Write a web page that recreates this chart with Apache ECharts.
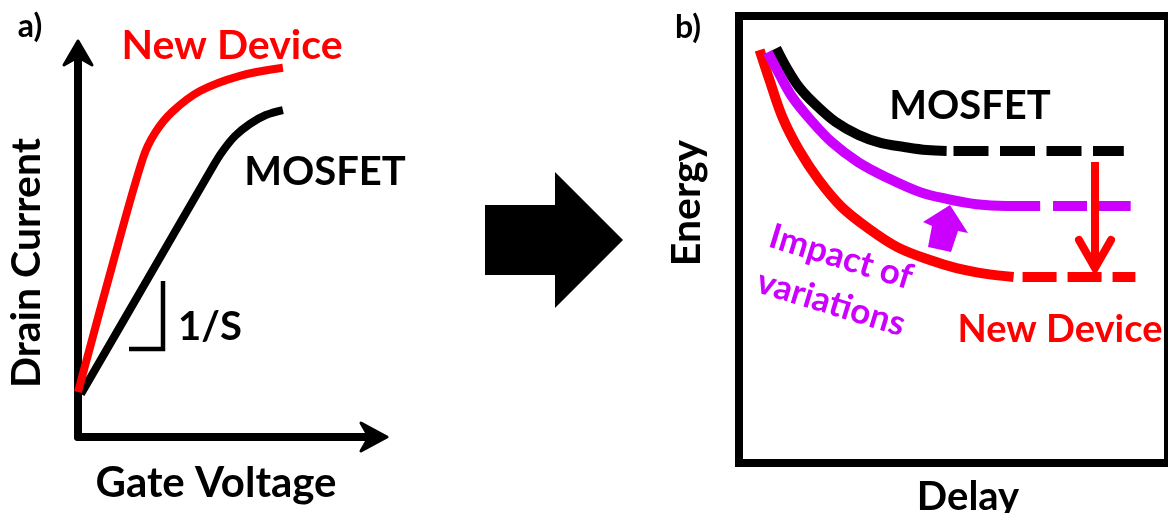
<!DOCTYPE html>
<html>
<head>
<meta charset="utf-8">
<script src="https://cdn.jsdelivr.net/npm/echarts@6/dist/echarts.min.js"></script>
<style>
html,body{margin:0;padding:0;background:#ffffff;}
#main{width:1168px;height:513px;}
</style>
</head>
<body>
<div id="main"></div>
<script>
// ---- Panel a: drain current vs gate voltage (arbitrary units 0-10) ----
const gateVoltageNew  = [0.00, 1.19, 2.21, 2.62, 3.20, 4.15, 5.51, 6.97];
const drainCurrentNew = [1.18, 4.57, 7.32, 7.98, 8.53, 9.08, 9.48, 9.69];
const gateVoltageMos  = [0.10, 2.35, 4.56, 4.90, 5.34, 5.85, 6.39, 6.97];
const drainCurrentMos = [1.13, 4.12, 7.06, 7.48, 7.90, 8.22, 8.45, 8.58];

// ---- Panel b: energy vs delay (arbitrary units 0-10) ----
const delayMos     = [0.87, 1.10, 1.40, 1.79, 2.25, 2.78, 3.30, 3.85, 4.38, 4.84];
const energyMos    = [9.28, 8.86, 8.41, 8.01, 7.63, 7.34, 7.16, 7.07, 7.00, 6.98];
const delayMosExt  = [5.00, 8.97];
const energyMosExt = [6.98, 6.98];

const delayVar     = [0.67, 0.94, 1.24, 1.63, 2.16, 2.78, 3.46, 4.22, 4.84, 5.53, 6.22, 7.02];
const energyVar    = [9.19, 8.70, 8.19, 7.72, 7.18, 6.73, 6.38, 6.06, 5.91, 5.79, 5.75, 5.75];
const delayVarExt  = [7.32, 9.13];
const energyVarExt = [5.75, 5.75];

const delayNew     = [0.48, 0.71, 1.01, 1.40, 1.86, 2.39, 3.00, 3.69, 4.45, 5.07, 5.76, 6.40];
const energyNew    = [9.24, 8.57, 7.74, 7.00, 6.33, 5.73, 5.26, 4.83, 4.54, 4.36, 4.23, 4.16];
const delayNewExt  = [6.61, 9.24];
const energyNewExt = [4.16, 4.16];

// ---- Text labels ----
const panelLabels = ['a)', 'b)'];
const axisTitles = ['Gate Voltage', 'Drain Current', 'Delay', 'Energy'];
const deviceNames = ['New Device', 'MOSFET'];
const slopeLabel = '1/S';
const variationLabel = ['Impact of', 'variations'];

const RED = '#ff0000', PURPLE = '#cc00ff', BLACK = '#000000';
const FONT = 'Lato';

function pairs(xs, ys) { return xs.map((x, i) => [x, ys[i]]); }

function lineSeries(xi, yi, xs, ys, color, width, dash) {
  return {
    type: 'line', xAxisIndex: xi, yAxisIndex: yi,
    data: pairs(xs, ys), symbol: 'none', smooth: dash ? false : 0.35,
    silent: true,
    lineStyle: { color: color, width: width, type: dash || 'solid', cap: 'butt' }
  };
}

function label(text, x, y, size, color, rot) {
  return {
    type: 'text', x: x, y: y, rotation: rot || 0, z: 20,
    style: { text: text, fill: color, fontFamily: FONT, fontWeight: 'bold', fontSize: size,
             align: 'center', verticalAlign: 'middle' }
  };
}

const hidden = { type: 'value', min: 0, max: 10, show: false };
const shownAxis = {
  type: 'value', min: 0, max: 10,
  axisLine: { show: true, onZero: false, lineStyle: { color: BLACK, width: 8, cap: 'round' } },
  axisTick: { show: false }, axisLabel: { show: false }, splitLine: { show: false }
};

const chart = echarts.init(document.getElementById('main'), null, { renderer: 'canvas' });
const rot = -17 * Math.PI / 180;
chart.setOption({
  animation: false,
  backgroundColor: '#ffffff',
  grid: [
    { left: 78, top: 56, width: 294, height: 381 },
    { left: 739, top: 16, right: -7, bottom: 50, show: true, borderColor: BLACK, borderWidth: 8, backgroundColor: 'transparent' }
  ],
  xAxis: [
    Object.assign({ gridIndex: 0 }, shownAxis),
    Object.assign({ gridIndex: 1 }, hidden)
  ],
  yAxis: [
    Object.assign({ gridIndex: 0 }, shownAxis),
    Object.assign({ gridIndex: 1 }, hidden)
  ],
  series: [
    lineSeries(0, 0, gateVoltageMos, drainCurrentMos, BLACK, 8),
    lineSeries(0, 0, gateVoltageNew, drainCurrentNew, RED, 8),
    lineSeries(1, 1, delayNew, energyNew, RED, 10),
    lineSeries(1, 1, delayNewExt, energyNewExt, RED, 10, [34, 11]),
    lineSeries(1, 1, delayMos, energyMos, BLACK, 10),
    lineSeries(1, 1, delayMosExt, energyMosExt, BLACK, 10, [35, 11.5]),
    lineSeries(1, 1, delayVar, energyVar, PURPLE, 10),
    lineSeries(1, 1, delayVarExt, energyVarExt, PURPLE, 10, [34, 11])
  ],
  graphic: [
    // axis arrowheads of panel a
    { type: 'polygon', z: 6, shape: { points: [[78,41],[92,65],[78,57],[64,65]] }, style: { fill: BLACK, stroke: BLACK, lineWidth: 3, lineJoin: 'round' } },
    { type: 'polygon', z: 6, shape: { points: [[387,437],[361,423],[369,437],[361,451]] }, style: { fill: BLACK, stroke: BLACK, lineWidth: 3, lineJoin: 'round' } },
    // big transition arrow
    { type: 'polygon', z: 5, shape: { points: [[485,205],[555,205],[555,172],[623,240],[555,308],[555,275],[485,275]] }, style: { fill: BLACK } },
    // 1/S slope bracket
    { type: 'polyline', z: 5, shape: { points: [[129,349],[163,349],[163,281]] }, style: { stroke: BLACK, lineWidth: 4.5, fill: null } },
    // purple block arrow
    { type: 'polygon', z: 5, shape: { points: [[950,205],[968,233],[958,231],[951,252],[928,247],[932,226],[923,222]] }, style: { fill: PURPLE } },
    // red down arrow
    { type: 'polyline', z: 5, shape: { points: [[1095,162],[1095,264]] }, style: { stroke: RED, lineWidth: 8, fill: null } },
    { type: 'polyline', z: 5, shape: { points: [[1079,240],[1095,268],[1111,240]] }, style: { stroke: RED, lineWidth: 8, lineCap: 'round', lineJoin: 'miter', fill: null } },
    // texts
    label(panelLabels[0], 30, 27, 32, BLACK),
    label(panelLabels[1], 688, 28, 32, BLACK),
    label(deviceNames[0], 232, 46, 41, RED),
    label(deviceNames[1], 325, 172, 40, BLACK),
    label(slopeLabel, 210, 327, 40, BLACK),
    label(axisTitles[0], 216, 483, 42, BLACK),
    label(axisTitles[1], 27, 263, 41, BLACK, Math.PI / 2),
    label(axisTitles[2], 968, 497, 40, BLACK),
    label(axisTitles[3], 687, 203, 41, BLACK, Math.PI / 2),
    label(deviceNames[1], 970, 106, 40, BLACK),
    label(deviceNames[0], 1060, 330, 38, RED),
    label(variationLabel[0], 841, 257, 35, PURPLE, rot),
    label(variationLabel[1], 831, 303, 35, PURPLE, rot)
  ]
});
</script>
</body>
</html>
